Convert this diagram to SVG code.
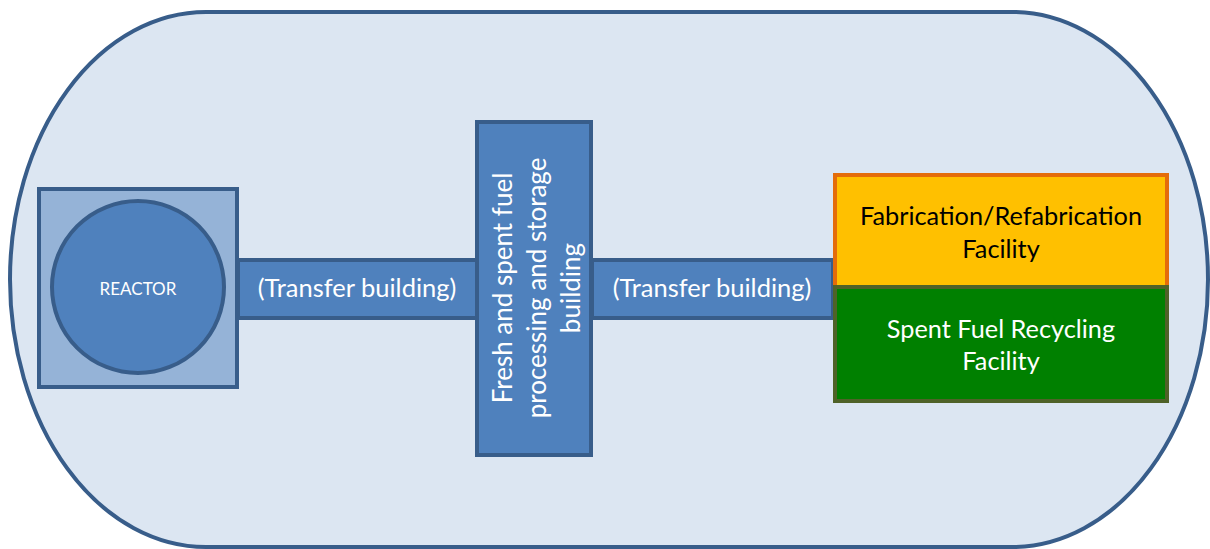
<svg xmlns="http://www.w3.org/2000/svg" width="1210" height="549" viewBox="0 0 1210 549">
<style>
.blue{fill:#4f81bd;stroke:#385d8a;stroke-width:4}
.t{font-family:Lato,"Liberation Sans",sans-serif;text-anchor:middle}
.w{fill:#ffffff}
.k{fill:#000000}
</style>
<rect x="10" y="12" width="1198" height="535" rx="196" ry="268" fill="#dce6f2" stroke="#385d8a" stroke-width="4"/>
<g id="connectors">
<g id="transfer-left">
<rect class="blue" x="238" y="260" width="239" height="58"/>
<text class="t w" x="357" y="297" font-size="25.5">(Transfer building)</text>
</g>
<g id="transfer-right">
<rect class="blue" x="592" y="260" width="241" height="58"/>
<text class="t w" x="712" y="297" font-size="25.5">(Transfer building)</text>
</g>
</g>
<g id="reactor">
<rect x="39" y="189" width="198" height="198" fill="#95b3d7" stroke="#385d8a" stroke-width="4"/>
<circle class="blue" cx="138" cy="287" r="86"/>
<text class="t w" x="138" y="295" font-size="17">REACTOR</text>
</g>
<g id="storage">
<rect class="blue" x="477" y="122" width="114" height="333"/>
<text class="t w" font-size="26" transform="translate(512,288) rotate(-90)"><tspan x="0" y="0">Fresh and spent fuel</tspan><tspan x="0" y="34">processing and storage</tspan><tspan x="0" y="68">building</tspan></text>
</g>
<g id="fabrication">
<rect x="835" y="175" width="332" height="112" fill="#ffc000" stroke="#e46c0a" stroke-width="4"/>
<text class="t k" x="1001" y="225" font-size="25.3">Fabrication/Refabrication</text>
<text class="t k" x="1001" y="258" font-size="25.3">Facility</text>
</g>
<g id="recycling">
<rect x="835" y="287" width="332" height="114" fill="#008000" stroke="#4f6228" stroke-width="4"/>
<text class="t w" x="1001" y="338" font-size="25.3">Spent Fuel Recycling</text>
<text class="t w" x="1001" y="370" font-size="25.3">Facility</text>
</g>
</svg>
